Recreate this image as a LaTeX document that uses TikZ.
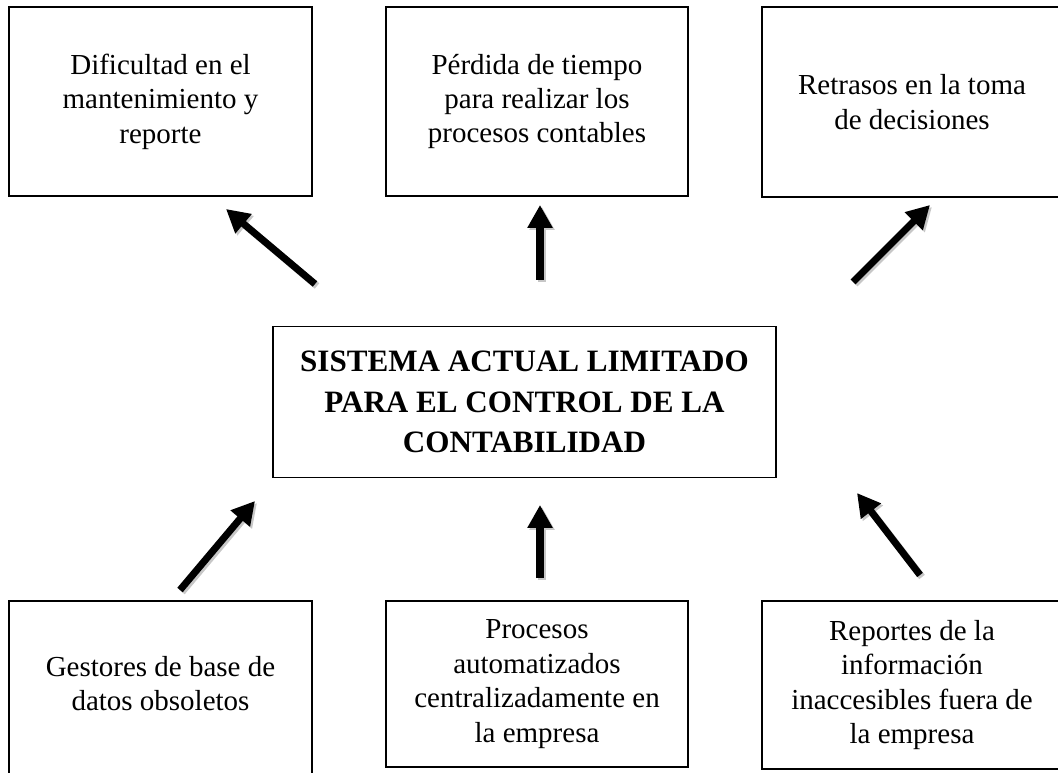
\documentclass[tikz,border=0pt]{standalone}
\usepackage{fontspec}
\setmainfont{Liberation Serif}
\usetikzlibrary{arrows.meta}

\begin{document}
\begin{tikzpicture}[x=0.02cm,y=-0.02cm,
  box/.style={draw,line width=0.8pt,align=center,inner sep=0pt,font=\fontsize{16.5}{19.6}\selectfont},
  arr/.style={line width=4pt,-{Triangle[length=0.46cm,width=0.48cm]}},
  arrsh/.style={arr,draw=black!22,fill=black!22,transform canvas={shift={(0.04cm,-0.04cm)}}}]
\useasboundingbox (0,0) rectangle (1058,773);
\clip (0,0) rectangle (1058,773);
% problema central
\node[box,minimum width=10.06cm,minimum height=3.02cm,font=\fontsize{17.7}{23}\selectfont\bfseries] (problema) at (524.5,402) {SISTEMA ACTUAL LIMITADO\\PARA EL CONTROL DE LA\\CONTABILIDAD};
% efectos
\node[box,minimum width=6.06cm,minimum height=3.78cm] (efecto1) at (160.5,101.5) {Dificultad en el\\mantenimiento y\\reporte};
\node[box,minimum width=6.04cm,minimum height=3.78cm] (efecto2) at (537,101.5) {P\'erdida de tiempo\\para realizar los\\procesos contables};
\node[box,minimum width=6.00cm,minimum height=3.80cm] (efecto3) at (912,102) {Retrasos en la toma\\de decisiones};
% causas
\node[box,minimum width=6.06cm,minimum height=3.98cm] (causa1) at (160.5,700.5) {Gestores de base de\\datos obsoletos\\\mbox{}};
\node[box,minimum width=6.04cm,minimum height=3.32cm] (causa2) at (537,684) {Procesos\\automatizados\\centralizadamente en\\la empresa};
\node[box,minimum width=6.00cm,minimum height=3.36cm] (causa3) at (912,685) {Reportes de la\\informaci\'on\\inaccesibles fuera de\\la empresa};
% extremos de flechas
\coordinate (e1a) at (315,284);
\coordinate (e1b) at (226,209);
\coordinate (e2a) at (540,280);
\coordinate (e2b) at (540,205);
\coordinate (e3a) at (853,282);
\coordinate (e3b) at (930,205);
\coordinate (c1a) at (180,590);
\coordinate (c1b) at (255,501);
\coordinate (c2a) at (540,578);
\coordinate (c2b) at (540,505);
\coordinate (c3a) at (920,575);
\coordinate (c3b) at (857,493);
% sombras
\draw[arrsh] (e1a) -- (e1b);
\draw[arrsh] (e2a) -- (e2b);
\draw[arrsh] (e3a) -- (e3b);
\draw[arrsh] (c1a) -- (c1b);
\draw[arrsh] (c2a) -- (c2b);
\draw[arrsh] (c3a) -- (c3b);
% flechas
\draw[arr] (e1a) -- (e1b);
\draw[arr] (e2a) -- (e2b);
\draw[arr] (e3a) -- (e3b);
\draw[arr] (c1a) -- (c1b);
\draw[arr] (c2a) -- (c2b);
\draw[arr] (c3a) -- (c3b);
\end{tikzpicture}
\end{document}
